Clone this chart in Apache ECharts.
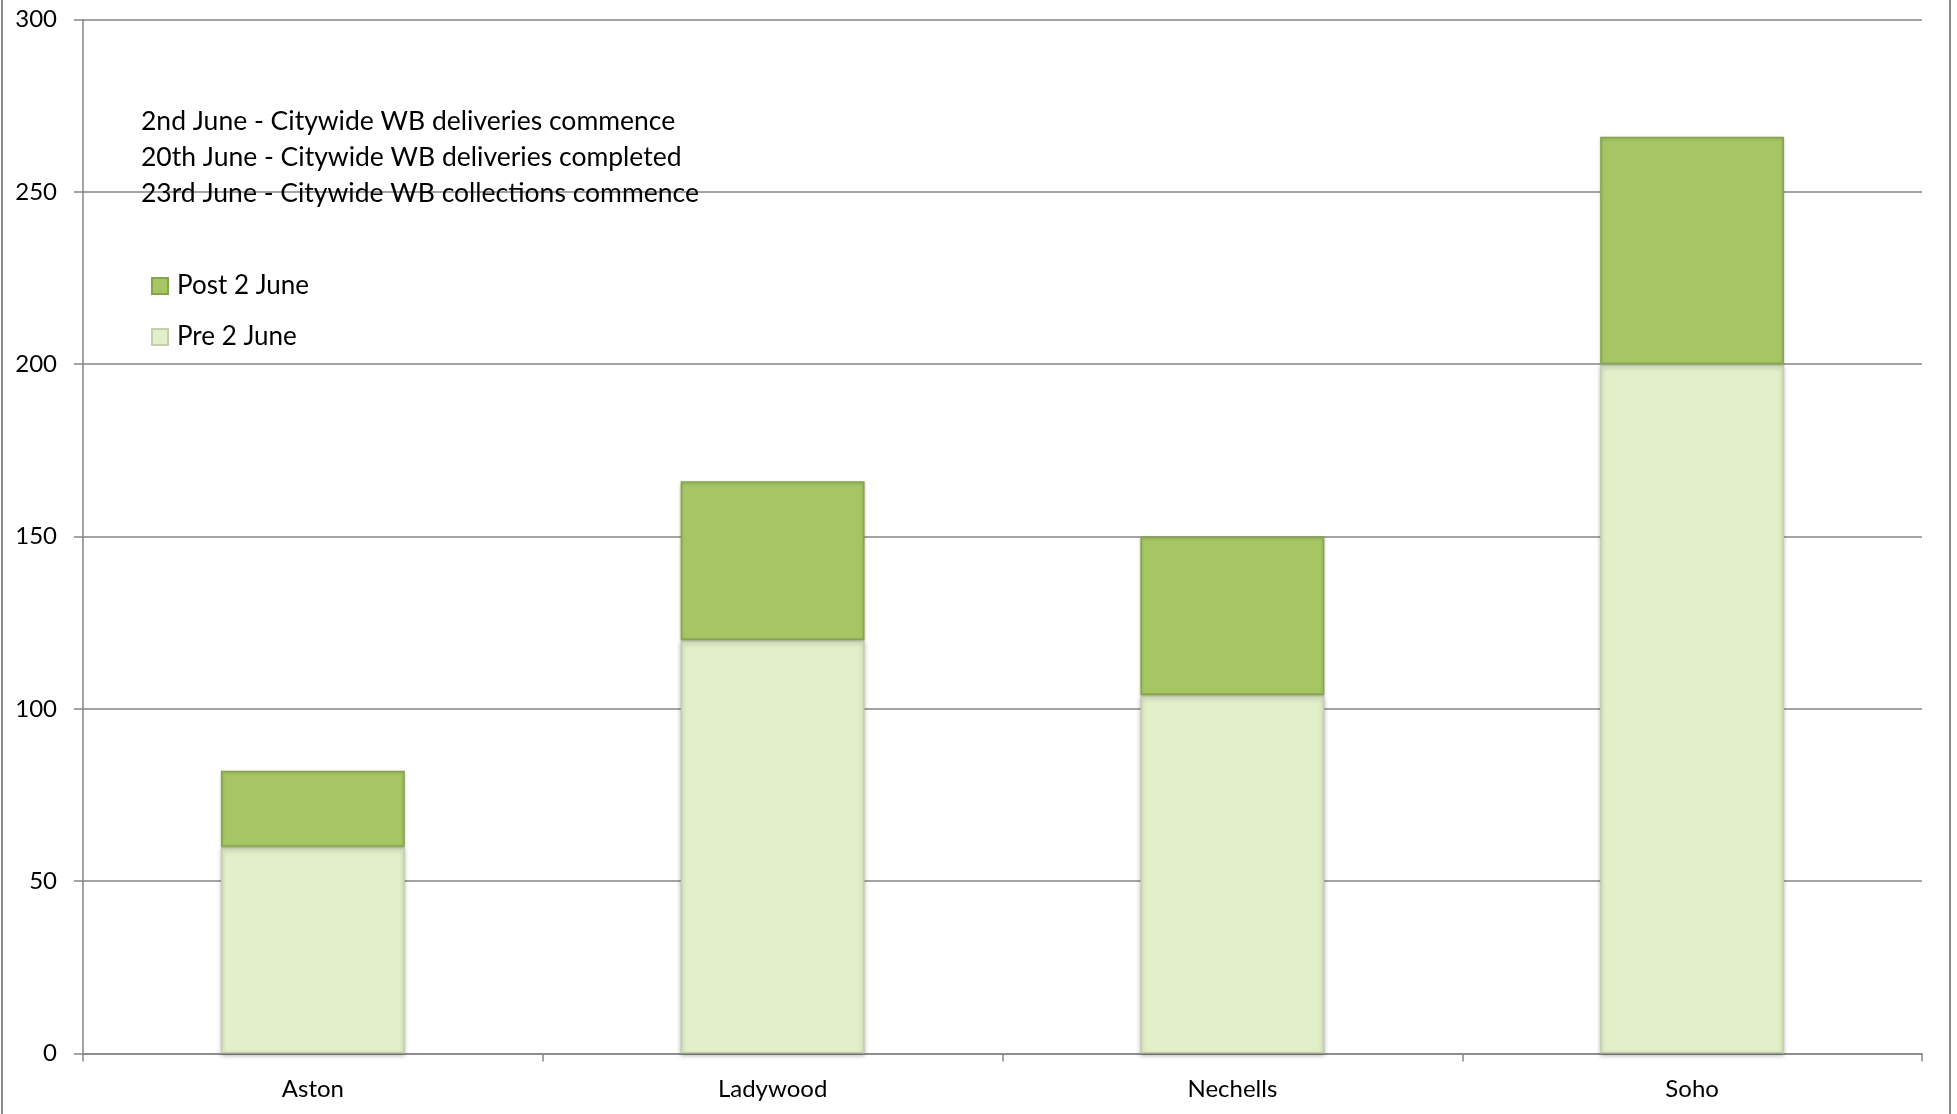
<!DOCTYPE html>
<html lang="en">
<head>
    <meta charset="UTF-8">
    <title>WB by ward</title>
    <style>
        html, body { margin: 0; padding: 0; background: #fff; }
        #chart { width: 1957px; height: 1114px; }
    </style>
</head>
<body>
<div id="chart"></div>
<script src="https://cdn.jsdelivr.net/npm/echarts@6/dist/echarts.min.js"></script>
<script type="text/javascript">
    // data
    var wards = ['Aston', 'Ladywood', 'Nechells', 'Soho'];
    var pre2June = [60, 120, 104, 200];
    var post2June = [22, 46, 46, 66];
    var yTicks = [0, 50, 100, 150, 200, 250, 300];
    var notes = [
        '2nd June - Citywide WB deliveries commence',
        '20th June - Citywide WB deliveries completed',
        '23rd June - Citywide WB collections commence'
    ];

    var font = 'Lato';
    var myChart = echarts.init(document.getElementById('chart'));

    var option = {
        backgroundColor: '#fff',
        animation: false,
        textStyle: { fontFamily: font, color: '#000' },
        title: {
            text: notes.join('\n'),
            left: 141,
            top: 103,
            padding: 0,
            textStyle: { fontFamily: font, fontSize: 26.5, fontWeight: 'normal', lineHeight: 36, color: '#000' }
        },
        legend: {
            orient: 'vertical',
            left: 151,
            top: 273,
            padding: 0,
            itemWidth: 16,
            itemHeight: 16,
            itemGap: 25,
            icon: 'rect',
            data: ['Post 2 June', 'Pre 2 June'],
            textStyle: { fontFamily: font, fontSize: 26, color: '#000', padding: [0, 0, 0, 4] }
        },
        grid: {
            left: 83,
            right: 35,
            top: 19.5,
            bottom: 60.5
        },
        xAxis: {
            type: 'category',
            data: wards,
            axisLine: { lineStyle: { color: '#868686', width: 1.5 } },
            axisTick: { show: true, length: 8, lineStyle: { color: '#868686', width: 1.5 } },
            axisLabel: { fontSize: 24, color: '#000', margin: 24 }
        },
        yAxis: {
            type: 'value',
            min: yTicks[0],
            max: yTicks[yTicks.length - 1],
            interval: yTicks[1] - yTicks[0],
            axisLine: { show: true, lineStyle: { color: '#868686', width: 1.5 } },
            axisTick: { show: true, length: 9, lineStyle: { color: '#868686', width: 1.5 } },
            axisLabel: { fontSize: 24, color: '#000', margin: 26 },
            splitLine: { lineStyle: { color: '#868686', width: 1.5 } }
        },
        series: [
            {
                name: 'Pre 2 June',
                type: 'bar',
                stack: 'total',
                barWidth: '40%',
                data: pre2June,
                itemStyle: {
                    color: '#e2efc9',
                    borderColor: '#c4cfb0',
                    borderWidth: 1.5,
                    shadowColor: 'rgba(0,0,0,0.25)',
                    shadowBlur: 4,
                    shadowOffsetY: 2
                }
            },
            {
                name: 'Post 2 June',
                type: 'bar',
                stack: 'total',
                barWidth: '40%',
                data: post2June,
                itemStyle: {
                    color: '#a6c664',
                    borderColor: '#86a44c',
                    borderWidth: 1.5,
                    shadowColor: 'rgba(0,0,0,0.2)',
                    shadowBlur: 3,
                    shadowOffsetY: 1
                }
            }
        ],
        graphic: [
            {
                type: 'rect',
                silent: true,
                shape: { x: 2, y: -10, width: 1948, height: 1140 },
                style: { fill: 'none', stroke: '#8c8c8c', lineWidth: 2 }
            }
        ]
    };
    myChart.setOption(option);
</script>
</body>
</html>
